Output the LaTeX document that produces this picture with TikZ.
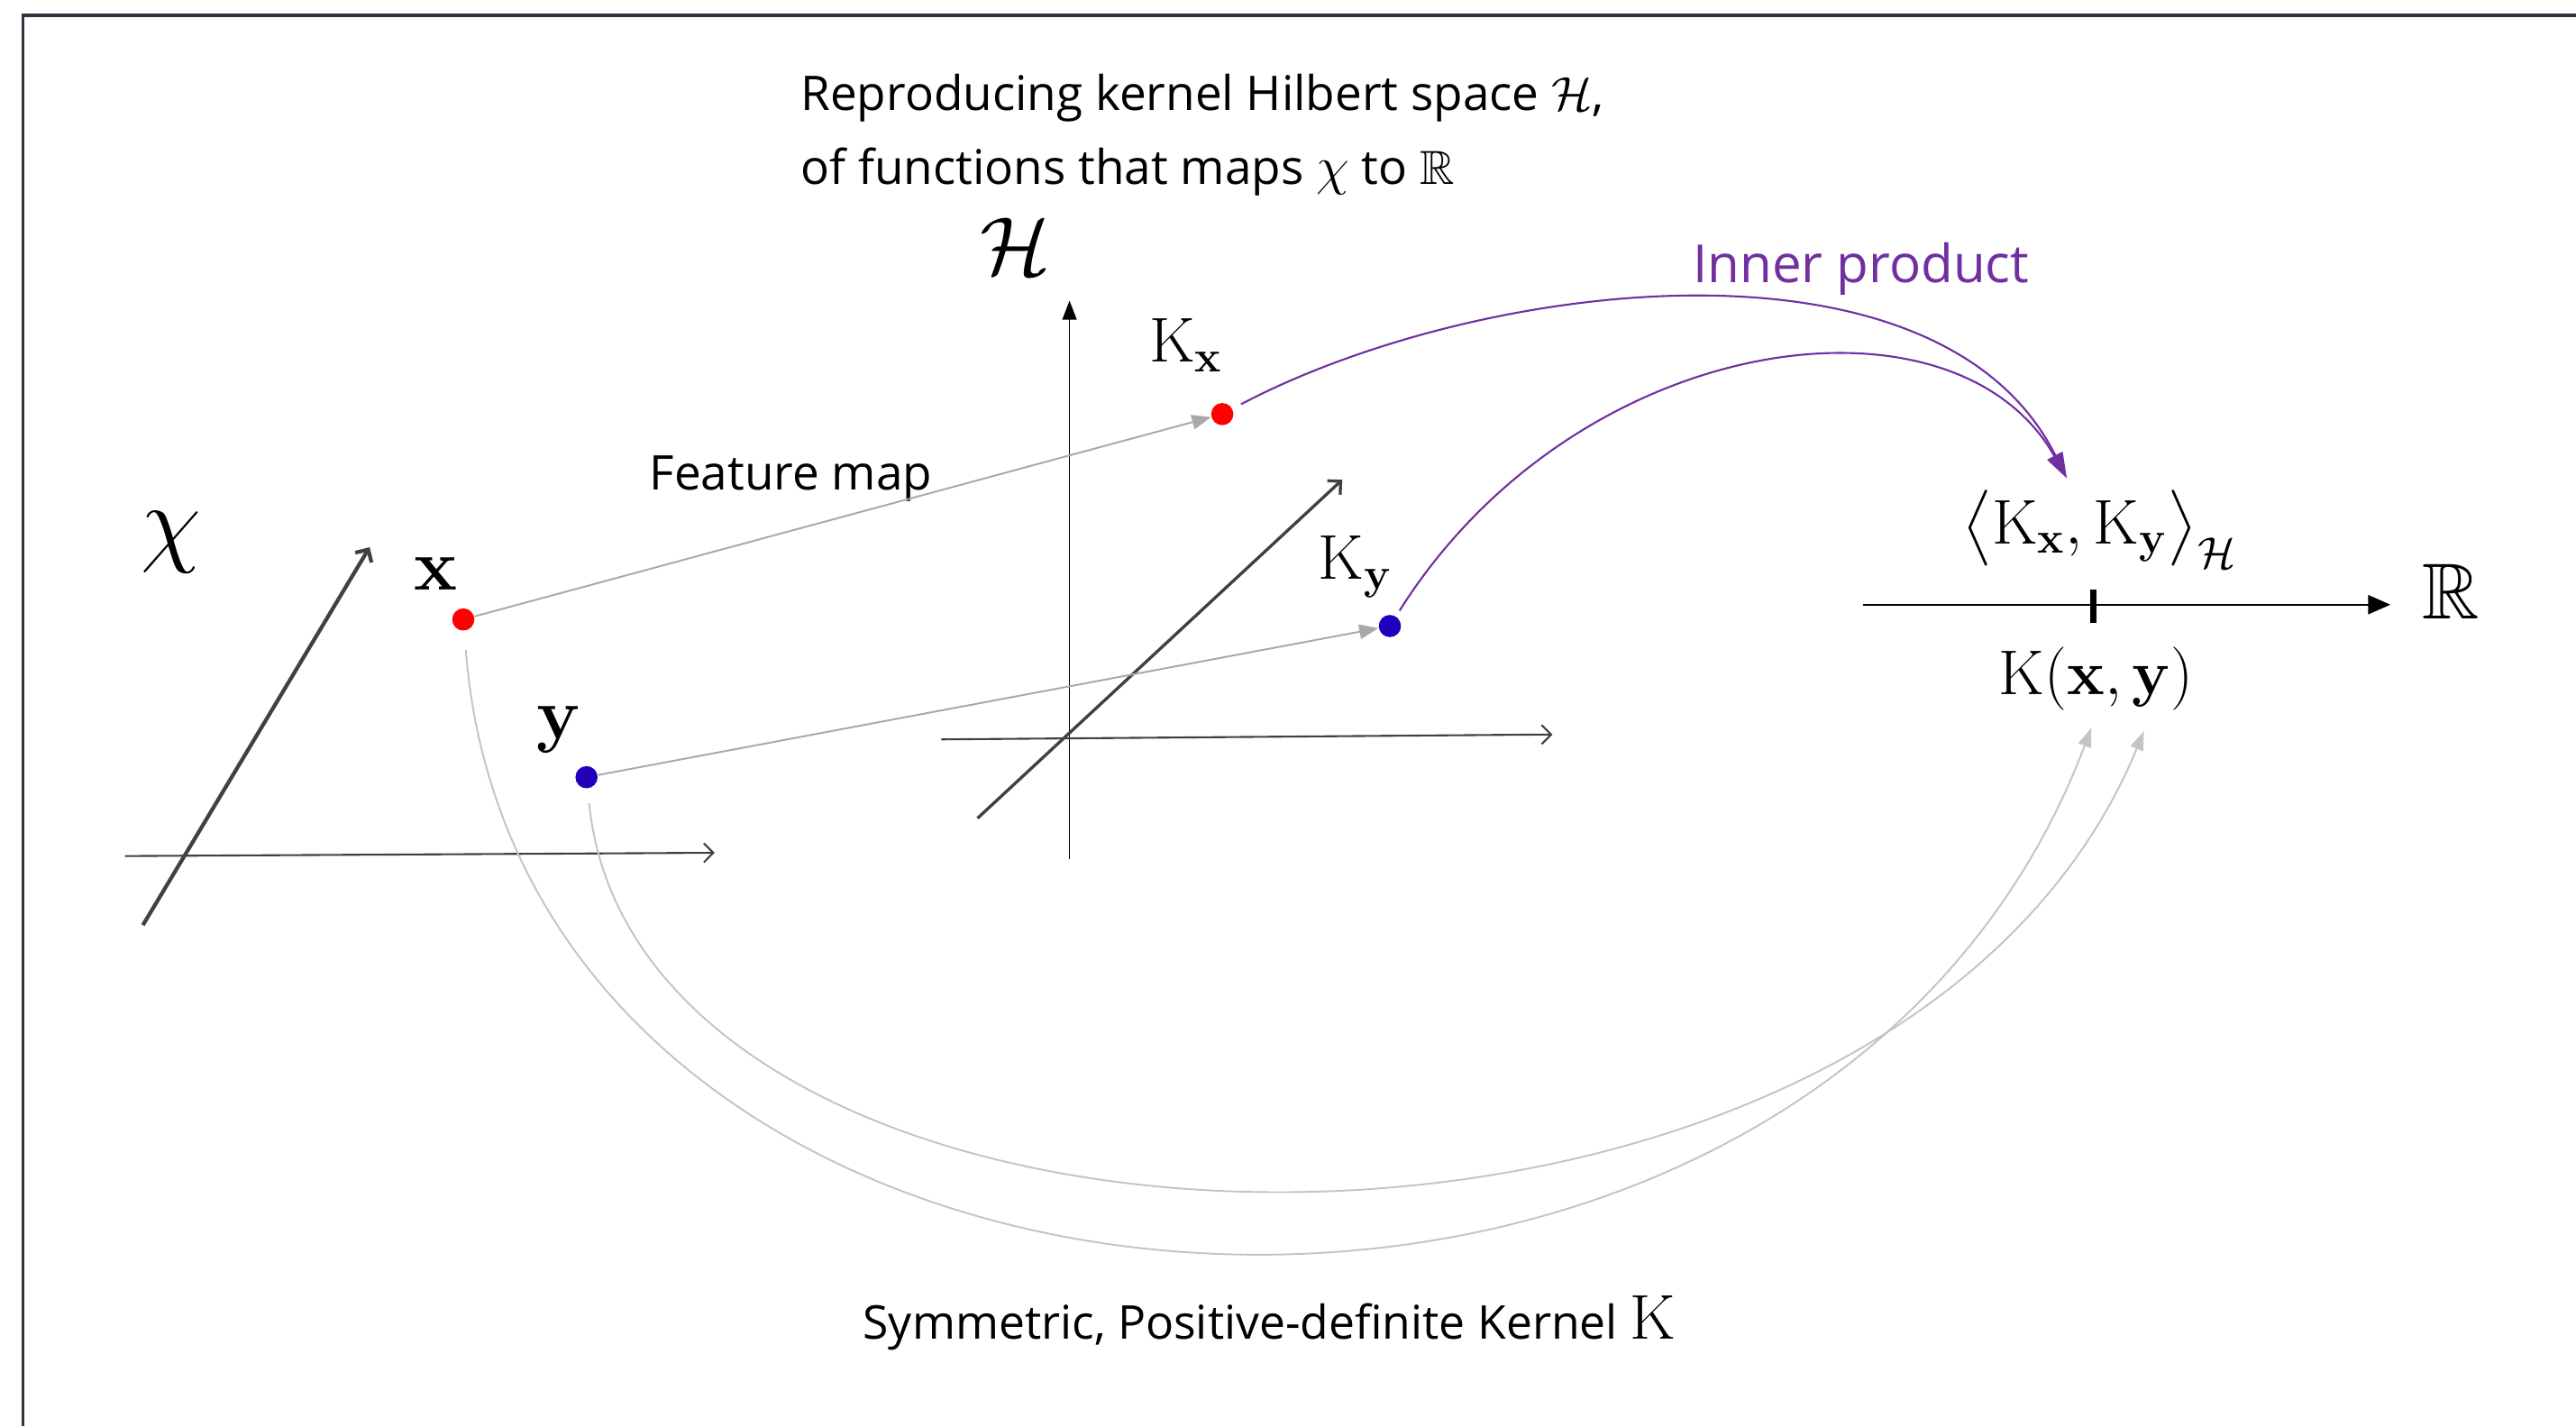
\RequirePackage{fix-cm}
\documentclass[tikz,border=0pt]{standalone}
\usepackage{amsmath,amssymb}
\usepackage[no-math]{fontspec}
\setmainfont{Open Sans}
\usetikzlibrary{arrows.meta}
\definecolor{innerpurple}{RGB}{112,48,160}
\definecolor{featgray}{RGB}{168,168,168}
\definecolor{kerngray}{RGB}{196,196,196}
\definecolor{axisgray}{RGB}{64,64,64}
\definecolor{framecol}{RGB}{46,52,64}
\definecolor{dotblue}{RGB}{34,0,187}
\begin{document}
\begin{tikzpicture}[x=0.018227cm,y=-0.018227cm,
  dot/.style={circle,inner sep=0pt,minimum size=7pt},
  xdot/.style={dot,fill=red},
  ydot/.style={dot,fill=dotblue},
  featarrow/.style={draw=featgray,line width=0.55pt,-{Triangle[length=6pt,width=4.6pt]}},
  kernarrow/.style={draw=kerngray,line width=0.55pt,-{Triangle[length=6pt,width=4.2pt]}},
  innerarrow/.style={draw=innerpurple,line width=0.6pt,-{Triangle[length=8pt,width=5pt]}},
  thinaxis/.style={draw=axisgray,line width=0.6pt,-{Straight Barb[length=3pt,width=6pt]}},
  thickaxis/.style={draw=axisgray,line width=1.2pt,-{Straight Barb[length=3pt,width=6pt]}},
  mathlbl/.style={inner sep=0pt},
  txt/.style={inner sep=0pt,font=\fontsize{15.1}{17}\selectfont}]
\useasboundingbox (0,0) rectangle (1568,868);
\fill[white] (0,0) rectangle (1568,868);
% frame
\draw[framecol,line width=0.9pt] (14,868) -- (14,9.3) -- (1568,9.3);

% texts
\node[txt,anchor=base west] (title1) at (487,67) {Reproducing kernel Hilbert space $\mathcal{H}$,};
\node[txt,anchor=base west] (title2) at (487,112) {of functions that maps {\fontsize{17}{20}\selectfont$\chi$} to $\mathbb{R}$};
\node[mathlbl,font=\fontsize{26}{30}\selectfont] (lH) at (618,150) {$\mathcal{H}$};
\node[txt,anchor=base west,text=innerpurple,font=\fontsize{16.6}{20}\selectfont] (linner) at (1030,172) {Inner product};
\node[txt,anchor=base west] (lfeat) at (395,298) {Feature map};
\node[txt,anchor=base west,font=\fontsize{14.7}{17}\selectfont] (lsym) at (525,815) {Symmetric, Positive-definite Kernel {\fontsize{20}{24}\selectfont$\mathrm{K}$}};

% left space chi
\node[mathlbl,font=\fontsize{31}{35}\selectfont] (lchi) at (104,330) {$\chi$};
\draw[thinaxis] (76,521) -- (435,519);
\draw[thickaxis] (87,563) -- (225,333);
\node[mathlbl,font=\fontsize{23}{27}\selectfont] (lx) at (265,349) {$\mathbf{x}$};
\node[mathlbl,font=\fontsize{23}{27}\selectfont] (ly) at (340,444) {$\mathbf{y}$};
\node[xdot] (px) at (282,377) {};
\node[ydot] (py) at (357,473) {};

% middle space H
\draw[black,line width=0.5pt,-{Triangle[length=6pt,width=4.5pt]}] (651,523) -- (651,183);
\draw[thinaxis] (573,450) -- (945,447);
\draw[draw=axisgray,line width=0.95pt,-{Straight Barb[length=3pt,width=6pt]}] (595,498) -- (817,292);
\node[mathlbl,font=\fontsize{20}{24}\selectfont] (lkx) at (722,210) {$\mathrm{K}_{\mathbf{x}}$};
\node[mathlbl,font=\fontsize{20}{24}\selectfont] (lky) at (825,345) {$\mathrm{K}_{\mathbf{y}}$};
\node[xdot] (pkx) at (744,252) {};
\node[ydot] (pky) at (846,381) {};

% right space R
\draw[black,line width=0.6pt,-{Triangle[length=7pt,width=6pt]}] (1134,368) -- (1455,368);
\draw[black,line width=2pt] (1274,359) -- (1274,379);
\node[mathlbl,font=\fontsize{25}{29}\selectfont] (lR) at (1492,360) {$\mathbb{R}$};
\node[mathlbl,font=\fontsize{20}{24}\selectfont] (lip) at (1278,322) {$\big\langle \mathrm{K}_{\mathbf{x}},\mathrm{K}_{\mathbf{y}}\big\rangle_{\mathcal{H}}$};
\node[mathlbl,font=\fontsize{20}{24}\selectfont] (lkxy) at (1276,413) {$\mathrm{K}(\mathbf{x},\mathbf{y})$};
\coordinate (ipt) at (1258,291);
\coordinate (kt1) at (1273,443);
\coordinate (kt2) at (1305,445);

% feature map arrows
\draw[featarrow] (px) -- (pkx);
\draw[featarrow] (py) -- (pky);

% inner product arrows
\draw[innerarrow,shorten <=3pt] (pkx) .. controls (900,170) and (1180,135) .. (ipt);
\draw[innerarrow,shorten <=2pt] (pky) .. controls (960,200) and (1190,170) .. (ipt);

% kernel arrows
\draw[kernarrow,shorten <=6pt] (px) .. controls (320,850) and (1100,900) .. (kt1);
\draw[kernarrow,shorten <=4.6pt] (py) .. controls (390,800) and (1150,820) .. (kt2);
\end{tikzpicture}
\end{document}
